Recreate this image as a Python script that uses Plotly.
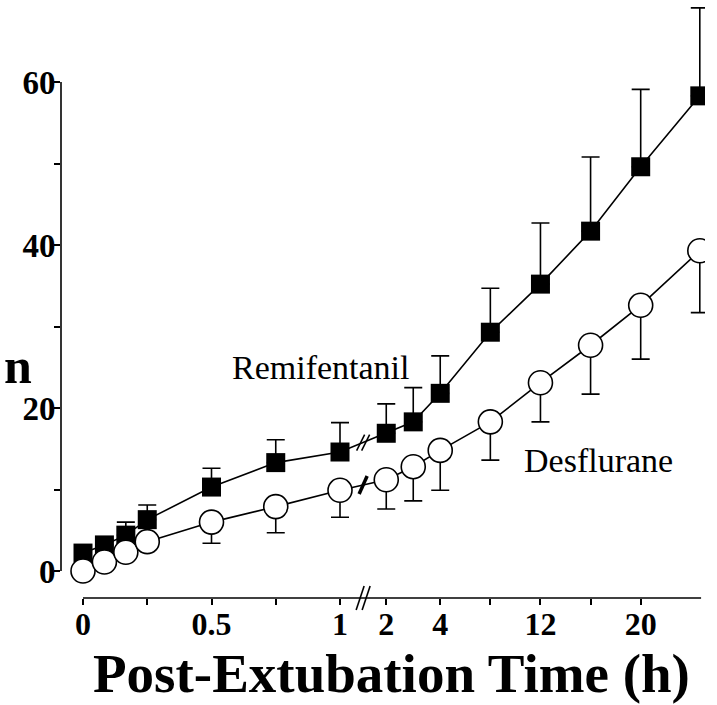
import numpy as np
import plotly.graph_objects as go

# ---------------- data ----------------
times_h = [0, 5/60, 10/60, 15/60, 0.5, 0.75, 1, 2, 3, 4, 8, 12, 16, 20, 24]
remi = [2.2, 3.2, 4.4, 6.3, 10.3, 13.3, 14.6, 16.9, 18.3, 21.8, 29.3, 35.2, 41.7, 49.6, 58.3]
remi_sd = [0.5, 0.7, 1.6, 1.8, 2.3, 2.8, 3.6, 3.6, 4.2, 4.6, 5.4, 7.5, 9.1, 9.5, 10.8]
desf = [0.0, 1.1, 2.3, 3.6, 6.0, 7.9, 9.9, 11.2, 12.8, 14.8, 18.3, 23.1, 27.7, 32.6, 39.3]
desf_sd = [0.5, 0.6, 0.8, 1.0, 2.6, 3.2, 3.3, 3.6, 4.2, 4.9, 4.7, 4.8, 6.0, 6.6, 7.6]

x_tick_vals_h = [0, 0.5, 1, 2, 4, 12, 20]
x_tick_text = ["0", "0.5", "1", "2", "4", "12", "20"]
x_minor_h = [0.25, 0.75, 8, 16]
y_tick_vals = [0, 20, 40, 60]
y_tick_text = ["0", "20", "40", "60"]

# broken time axis (piecewise scale)
T_ANCHOR = [0, 1, 2, 4, 20, 24]
U_ANCHOR = [0, 1, 1.18, 1.39, 2.17, 2.40]


def to_u(t):
    return np.interp(np.asarray(t, dtype=float), T_ANCHOR, U_ANCHOR)


ux = to_u(times_h)

SERIF = "Liberation Serif"

fig = go.Figure()
fig.add_trace(go.Scatter(
    x=ux, y=remi, mode="lines+markers", name="Remifentanil",
    line=dict(color="black", width=1.6),
    marker=dict(symbol="square", size=19, color="black", line=dict(width=0)),
    error_y=dict(type="data", symmetric=False, array=remi_sd,
                 arrayminus=[0] * len(remi), color="black", thickness=1.6, width=9),
    showlegend=False,
))
fig.add_trace(go.Scatter(
    x=ux, y=desf, mode="lines+markers", name="Desflurane",
    line=dict(color="black", width=1.6),
    marker=dict(symbol="circle", size=24, color="white", line=dict(width=1.6, color="black")),
    error_y=dict(type="data", symmetric=False, array=[0] * len(desf),
                 arrayminus=desf_sd, color="black", thickness=1.6, width=9),
    showlegend=False,
))

shapes = []
# y axis line (0..60)
shapes.append(dict(type="line", xref="paper", yref="y", x0=0, x1=0, y0=0, y1=60,
                   line=dict(color="black", width=1.6), layer="below"))
# x axis line
shapes.append(dict(type="line", xref="x", yref="paper", x0=0, x1=float(to_u(24)) + 0.005,
                   y0=0, y1=0, line=dict(color="black", width=1.6), layer="below"))

# break marks
u_break = float((to_u(1) + to_u(2)) / 2)
for dx in (-3, 3):
    shapes.append(dict(type="line", xref="x", yref="paper", xsizemode="pixel", ysizemode="pixel",
                       xanchor=u_break, yanchor=0, x0=dx - 4, x1=dx + 4, y0=-12, y1=12,
                       line=dict(color="black", width=1.6)))
i1, i2 = times_h.index(1), times_h.index(2)
frac = (u_break - ux[i1]) / (ux[i2] - ux[i1])
remi_b = remi[i1] + frac * (remi[i2] - remi[i1])
desf_b = desf[i1] + frac * (desf[i2] - desf[i1])
for dx in (-2.5, 2.5):
    shapes.append(dict(type="line", xref="x", yref="y", xsizemode="pixel", ysizemode="pixel",
                       xanchor=u_break, yanchor=remi_b, x0=dx - 4, x1=dx + 4, y0=-8, y1=8,
                       line=dict(color="black", width=1.5)))
shapes.append(dict(type="line", xref="x", yref="y", xsizemode="pixel", ysizemode="pixel",
                   xanchor=u_break, yanchor=desf_b, x0=-4, x1=4, y0=-9, y1=9,
                   line=dict(color="black", width=3.5)))

annotations = [
    dict(text="Remifentanil", x=0.926, y=25.0, xref="x", yref="y", showarrow=False,
         xanchor="center", yanchor="middle",
         font=dict(family=SERIF, size=34, color="black")),
    dict(text="Desflurane", x=2.004, y=13.6, xref="x", yref="y", showarrow=False,
         xanchor="center", yanchor="middle",
         font=dict(family=SERIF, size=34, color="black")),
    dict(text="<b>n</b>", x=(18 - 61) / 644, y=(598 - 366) / 593, xref="paper", yref="paper",
         showarrow=False, xanchor="center", yanchor="middle",
         font=dict(family=SERIF, size=50, color="black")),
    dict(text="<b>Post-Extubation Time (h)</b>", x=(391 - 61) / 644, y=(598 - 673) / 593,
         xref="paper", yref="paper", showarrow=False, xanchor="center", yanchor="middle",
         font=dict(family=SERIF, size=55, color="black")),
]

fig.update_layout(
    width=717, height=705,
    margin=dict(l=61, r=12, t=5, b=107),
    paper_bgcolor="white", plot_bgcolor="white",
    shapes=shapes, annotations=annotations,
    xaxis=dict(
        range=[(61 - 83) / 257, (705 - 83) / 257],
        tickmode="array", tickvals=list(to_u(x_tick_vals_h)), ticktext=x_tick_text,
        ticks="outside", ticklen=6, tickwidth=1.6, tickcolor="black",
        minor=dict(tickmode="array", tickvals=list(to_u(x_minor_h)), ticks="outside",
                   ticklen=6, tickwidth=1.6, tickcolor="black"),
        showline=False, showgrid=False, zeroline=False,
        tickfont=dict(family=SERIF, size=32, color="black", weight="bold"),
        ticklabelstandoff=-8,
    ),
    yaxis=dict(
        range=[(571 - 598) / 8.15, (571 - 5) / 8.15],
        tickmode="array", tickvals=y_tick_vals, ticktext=y_tick_text,
        ticks="outside", ticklen=6, tickwidth=1.6, tickcolor="black",
        minor=dict(tickmode="array", tickvals=[10, 30, 50], ticks="outside",
                   ticklen=6, tickwidth=1.6, tickcolor="black"),
        showline=False, showgrid=False, zeroline=False,
        tickfont=dict(family=SERIF, size=33, color="black", weight="bold"),
        ticklabelstandoff=-8,
    ),
)

fig.write_html("out.html", config={"displayModeBar": False},
               post_script="document.body.style.margin='0';")
